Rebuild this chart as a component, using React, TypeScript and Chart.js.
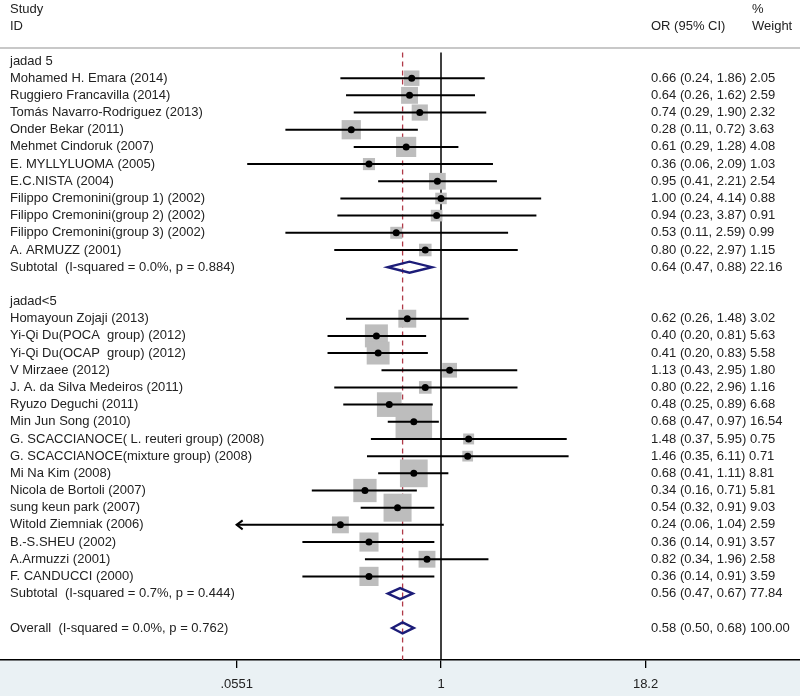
import React, { useEffect, useRef } from "react";
import { Chart, registerables } from "chart.js";

Chart.register(...registerables);

// ---------------- data ----------------
const groupTitles = ["jadad 5", "jadad<5"];

const group1Studies = [
  "Mohamed H. Emara (2014)",
  "Ruggiero Francavilla (2014)",
  "Tomás Navarro-Rodriguez (2013)",
  "Onder Bekar (2011)",
  "Mehmet Cindoruk (2007)",
  "E. MYLLYLUOMA (2005)",
  "E.C.NISTA (2004)",
  "Filippo Cremonini(group 1) (2002)",
  "Filippo Cremonini(group 2) (2002)",
  "Filippo Cremonini(group 3) (2002)",
  "A. ARMUZZ (2001)",
];
const group1OR = [0.66, 0.64, 0.74, 0.28, 0.61, 0.36, 0.95, 1.0, 0.94, 0.53, 0.8];
const group1Lo = [0.24, 0.26, 0.29, 0.11, 0.29, 0.064, 0.41, 0.24, 0.23, 0.11, 0.22];
const group1Hi = [1.86, 1.62, 1.9, 0.72, 1.28, 2.09, 2.21, 4.14, 3.87, 2.59, 2.97];
const group1Weight = [2.05, 2.59, 2.32, 3.63, 4.08, 1.03, 2.54, 0.88, 0.91, 0.99, 1.15];

const group2Studies = [
  "Homayoun Zojaji (2013)",
  "Yi-Qi Du(POCA  group) (2012)",
  "Yi-Qi Du(OCAP  group) (2012)",
  "V Mirzaee (2012)",
  "J. A. da Silva Medeiros (2011)",
  "Ryuzo Deguchi (2011)",
  "Min Jun Song (2010)",
  "G. SCACCIANOCE( L. reuteri group) (2008)",
  "G. SCACCIANOCE(mixture group) (2008)",
  "Mi Na Kim (2008)",
  "Nicola de Bortoli (2007)",
  "sung keun park (2007)",
  "Witold Ziemniak (2006)",
  "B.-S.SHEU (2002)",
  "A.Armuzzi (2001)",
  "F. CANDUCCI (2000)",
];
const group2OR = [0.62, 0.4, 0.41, 1.13, 0.8, 0.48, 0.68, 1.48, 1.46, 0.68, 0.34, 0.54, 0.24, 0.36, 0.82, 0.36];
const group2Lo = [0.26, 0.2, 0.2, 0.43, 0.22, 0.25, 0.47, 0.37, 0.35, 0.41, 0.16, 0.32, 0.055, 0.14, 0.34, 0.14];
const group2Hi = [1.48, 0.81, 0.83, 2.95, 2.96, 0.89, 0.97, 5.95, 6.11, 1.11, 0.71, 0.91, 1.04, 0.91, 1.96, 0.91];
const group2Weight = [3.02, 5.63, 5.58, 1.8, 1.16, 6.68, 16.54, 0.75, 0.71, 8.81, 5.81, 9.03, 2.59, 3.57, 2.58, 3.59];

const subtotalLabels = [
  "Subtotal  (I-squared = 0.0%, p = 0.884)",
  "Subtotal  (I-squared = 0.7%, p = 0.444)",
];
const subtotalOR = [0.64, 0.56];
const subtotalLo = [0.47, 0.47];
const subtotalHi = [0.88, 0.67];
const subtotalWeight = [22.16, 77.84];

const overallLabel = "Overall  (I-squared = 0.0%, p = 0.762)";
const overallOR = 0.58;
const overallLo = 0.5;
const overallHi = 0.68;
const overallWeight = 100.0;

const headerStudy = ["Study", "ID"];
const headerEstimate = "OR (95% CI)";
const headerWeight = ["%", "Weight"];

const axisTicks = [0.0551, 1, 18.2];
const axisTickLabels = [".0551", "1", "18.2"];

// ---------------- layout ----------------
const W = 800;
const H = 696;
const X_ONE_PX = 441;
const PX_PER_LN = 70.5;
const AXIS_Y = 660;
const FIRST_ROW_Y = 61;
const ROW_H = 17.18;
const LABEL_X = 10;
const EST_X = 651;
const WEIGHT_X = 752;
const FONT = '13px "Liberation Sans", Arial, sans-serif';
const TEXT_COLOR = "#222";

type Row = {
  i: number;
  kind: "title" | "study" | "subtotal" | "overall" | "blank";
  label: string;
  or?: number;
  lo?: number;
  hi?: number;
  w?: number;
};

function buildRows(): Row[] {
  const rows: Row[] = [];
  let i = 0;
  const groups = [
    [group1Studies, group1OR, group1Lo, group1Hi, group1Weight],
    [group2Studies, group2OR, group2Lo, group2Hi, group2Weight],
  ] as const;
  groups.forEach((g, gi) => {
    rows.push({ i: i++, kind: "title", label: groupTitles[gi] });
    const [names, ors, los, his, ws] = g as any;
    names.forEach((n: string, k: number) => {
      rows.push({ i: i++, kind: "study", label: n, or: ors[k], lo: los[k], hi: his[k], w: ws[k] });
    });
    rows.push({
      i: i++,
      kind: "subtotal",
      label: subtotalLabels[gi],
      or: subtotalOR[gi],
      lo: subtotalLo[gi],
      hi: subtotalHi[gi],
      w: subtotalWeight[gi],
    });
    rows.push({ i: i++, kind: "blank", label: "" });
  });
  rows.push({ i: i++, kind: "overall", label: overallLabel, or: overallOR, lo: overallLo, hi: overallHi, w: overallWeight });
  return rows;
}

const fmt2 = (v: number) => (Math.round(v * 100) / 100).toFixed(2);

export default function App() {
  const ref = useRef<HTMLCanvasElement | null>(null);

  useEffect(() => {
    const canvas = ref.current;
    if (!canvas) return;
    const rows = buildRows();
    const studies = rows.filter((r) => r.kind === "study");
    const xMin = Math.exp(-X_ONE_PX / PX_PER_LN);
    const xMax = Math.exp((W - X_ONE_PX) / PX_PER_LN);
    const yMin = -FIRST_ROW_Y / ROW_H;
    const yMax = (AXIS_Y - FIRST_ROW_Y) / ROW_H;
    const sqSide = (w: number) => 4 + 8 * Math.sqrt(w);

    const forestPlugin = {
      id: "forest",
      beforeDraw(chart: any) {
        const { ctx, chartArea } = chart;
        ctx.save();
        ctx.fillStyle = "#ffffff";
        ctx.fillRect(0, 0, W, H);
        ctx.fillStyle = "#eaf1f4";
        ctx.fillRect(0, chartArea.bottom, W, H - chartArea.bottom);
        ctx.restore();
      },
      beforeDatasetsDraw(chart: any) {
        const { ctx, chartArea } = chart;
        const xs = chart.scales.x;
        const ys = chart.scales.y;
        ctx.save();
        const sepY = ys.getPixelForValue(-0.76);
        ctx.strokeStyle = "#c8c8c8";
        ctx.lineWidth = 2;
        ctx.beginPath();
        ctx.moveTo(0, sepY);
        ctx.lineTo(W, sepY);
        ctx.stroke();
        const top = ys.getPixelForValue(-0.5);
        const x1 = xs.getPixelForValue(1);
        ctx.strokeStyle = "#000";
        ctx.lineWidth = 1.5;
        ctx.beginPath();
        ctx.moveTo(x1, top);
        ctx.lineTo(x1, chartArea.bottom);
        ctx.stroke();
        const xo = xs.getPixelForValue(overallOR);
        ctx.strokeStyle = "#b03a48";
        ctx.lineWidth = 1.3;
        ctx.setLineDash([5, 4]);
        ctx.beginPath();
        ctx.moveTo(xo, top);
        ctx.lineTo(xo, chartArea.bottom);
        ctx.stroke();
        ctx.setLineDash([]);
        ctx.restore();
      },
      beforeDatasetDraw(chart: any, args: any) {
        if (args.index !== 1) return;
        const { ctx } = chart;
        const xs = chart.scales.x;
        const ys = chart.scales.y;
        ctx.save();
        ctx.strokeStyle = "#000";
        ctx.lineWidth = 2;
        studies.forEach((r) => {
          const y = ys.getPixelForValue(r.i);
          const clipped = (r.lo as number) < axisTicks[0];
          const xl = xs.getPixelForValue(clipped ? axisTicks[0] : (r.lo as number));
          const xh = xs.getPixelForValue(r.hi as number);
          ctx.beginPath();
          ctx.moveTo(xl, y);
          ctx.lineTo(xh, y);
          ctx.stroke();
          if (clipped) {
            ctx.beginPath();
            ctx.moveTo(xl + 6, y - 4.5);
            ctx.lineTo(xl, y);
            ctx.lineTo(xl + 6, y + 4.5);
            ctx.stroke();
          }
        });
        ctx.restore();
      },
      afterDatasetsDraw(chart: any) {
        const { ctx } = chart;
        const xs = chart.scales.x;
        const ys = chart.scales.y;
        ctx.save();
        ctx.strokeStyle = "#1c1c78";
        ctx.lineWidth = 2.4;
        rows
          .filter((r) => r.kind === "subtotal" || r.kind === "overall")
          .forEach((r) => {
            const y = ys.getPixelForValue(r.i);
            const xl = xs.getPixelForValue(r.lo as number);
            const xh = xs.getPixelForValue(r.hi as number);
            const xc = xs.getPixelForValue(r.or as number);
            const hh = 5.5;
            ctx.beginPath();
            ctx.moveTo(xl, y);
            ctx.lineTo(xc, y - hh);
            ctx.lineTo(xh, y);
            ctx.lineTo(xc, y + hh);
            ctx.closePath();
            ctx.stroke();
          });
        ctx.fillStyle = TEXT_COLOR;
        ctx.font = FONT;
        ctx.textBaseline = "middle";
        ctx.textAlign = "left";
        ctx.fillText(headerStudy[0], LABEL_X, ys.getPixelForValue(-3));
        ctx.fillText(headerStudy[1], LABEL_X, ys.getPixelForValue(-2));
        ctx.fillText(headerEstimate, EST_X, ys.getPixelForValue(-2));
        ctx.fillText(headerWeight[0], WEIGHT_X, ys.getPixelForValue(-3));
        ctx.fillText(headerWeight[1], WEIGHT_X, ys.getPixelForValue(-2));
        rows.forEach((r) => {
          if (r.kind === "blank") return;
          const y = ys.getPixelForValue(r.i);
          ctx.fillText(r.label, LABEL_X, y);
          if (r.or !== undefined) {
            const txt = `${fmt2(r.or)} (${fmt2(r.lo as number)}, ${fmt2(r.hi as number)}) ${(r.w as number).toFixed(2)}`;
            ctx.fillText(txt, EST_X, y);
          }
        });
        ctx.restore();
      },
    };

    const chart = new Chart(canvas, {
      type: "scatter",
      data: {
        datasets: [
          {
            label: "weight",
            data: studies.map((r) => ({ x: r.or as number, y: r.i })),
            pointStyle: "rect",
            pointRadius: studies.map((r) => sqSide(r.w as number) / (2 * Math.SQRT1_2)),
            backgroundColor: "#bdbdbd",
            borderWidth: 0,
            order: 2,
          },
          {
            label: "estimate",
            data: studies.map((r) => ({ x: r.or as number, y: r.i })),
            pointStyle: "circle",
            pointRadius: 3.5,
            backgroundColor: "#000",
            borderWidth: 0,
            order: 1,
          },
        ],
      },
      options: {
        animation: false,
        responsive: false,
        events: [],
        layout: { padding: 0, autoPadding: false },
        plugins: { legend: { display: false }, tooltip: { enabled: false } },
        scales: {
          x: {
            type: "logarithmic",
            position: "bottom",
            min: xMin,
            max: xMax,
            afterBuildTicks: (s: any) => {
              s.ticks = axisTicks.map((v) => ({ value: v }));
            },
            afterFit: (s: any) => {
              s.height = H - AXIS_Y;
            },
            ticks: {
              callback: (_v: any, idx: number) => axisTickLabels[idx],
              font: { family: '"Liberation Sans", Arial, sans-serif', size: 13 },
              color: TEXT_COLOR,
              padding: 9,
              maxRotation: 0,
              autoSkip: false,
            },
            grid: { drawOnChartArea: false, drawTicks: true, tickLength: 8, color: "#000", lineWidth: 1.3 },
            border: { display: true, color: "#000", width: 1.5 },
          },
          y: { type: "linear", display: false, reverse: true, min: yMin, max: yMax },
        },
      } as any,
      plugins: [forestPlugin],
    });
    return () => chart.destroy();
  }, []);

  return (
    <div style={{ position: "absolute", left: 0, top: 0, width: W, height: H }}>
      <canvas ref={ref} width={W} height={H} style={{ display: "block" }} />
    </div>
  );
}
